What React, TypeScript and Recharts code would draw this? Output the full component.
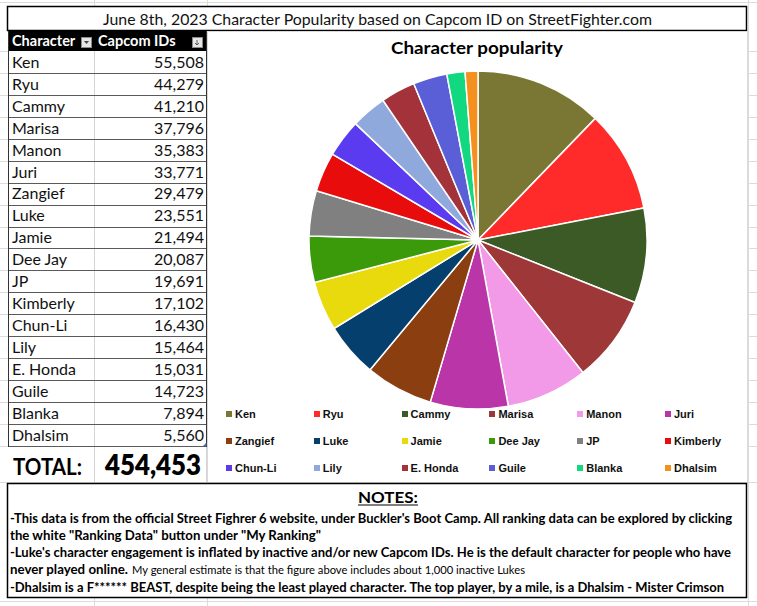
import React from "react"
import { PieChart, Pie, Cell, Legend } from "recharts"

const characters = [
  "Ken", "Ryu", "Cammy", "Marisa", "Manon", "Juri", "Zangief", "Luke", "Jamie",
  "Dee Jay", "JP", "Kimberly", "Chun-Li", "Lily", "E. Honda", "Guile", "Blanka", "Dhalsim",
]
const capcomIds = [
  55508, 44279, 41210, 37796, 35383, 33771, 29479, 23551, 21494,
  20087, 19691, 17102, 16430, 15464, 15031, 14723, 7894, 5560,
]

const pageTitle = "June 8th, 2023 Character Popularity based on Capcom ID on StreetFighter.com"
const chartTitle = "Character popularity"
const noteLines = [
  "-This data is from the official Street Fighrer 6 website, under Buckler's Boot Camp. All ranking data can be explored by clicking",
  "the white \"Ranking Data\" button under \"My Ranking\"",
  "-Luke's character engagement is inflated by inactive and/or new Capcom IDs. He is the default character for people who have",
  "never played online.",
  "-Dhalsim is a F****** BEAST, despite being the least played character. The top player, by a mile, is a Dhalsim - Mister Crimson",
]
const noteAside = "My general estimate is that the figure above includes about 1,000 inactive Lukes"

const sliceColors = [
  "#7a7634", "#ff2b2b", "#3b5a26", "#9e3838", "#f29ae8", "#ba35a8",
  "#8b3e0f", "#053f6e", "#e8da0c", "#3b9a0a", "#808080", "#e80c0c",
  "#5a3bf0", "#8fa9dc", "#a3323a", "#5a5fd8", "#12d880", "#f5901e",
]

const calibri = "Lato, 'Open Sans', sans-serif"
const arial = "'Liberation Sans', Arial, sans-serif"

const ROW_TOP = 51
const ROW_H = 21.94

const pieData = characters.map((name, i) => ({ name, value: capcomIds[i] }))
const total = capcomIds.reduce((a, b) => a + b, 0)
const fmt = (n: number) => n.toLocaleString("en-US")

function renderLegend(props: any) {
  // keep the sheet's order (recharts sorts the legend by name)
  const payload = [...(props.payload || [])].sort(
    (a: any, b: any) => characters.indexOf(a.value) - characters.indexOf(b.value),
  )
  return (
    <div style={{ position: "relative", width: 540, height: 80 }}>
      {payload.map((entry: any) => {
        const idx = characters.indexOf(entry.value)
        const col = idx % 6
        const row = Math.floor(idx / 6)
        return (
          <div
            key={entry.value}
            style={{
              position: "absolute",
              left: 19 + col * 87.8,
              top: 13 + row * 27 - 7,
              height: 14,
              display: "flex",
              alignItems: "center",
              whiteSpace: "nowrap",
            }}
          >
            <span style={{ width: 6, height: 6, background: sliceColors[idx], marginRight: 3, display: "inline-block" }} />
            <span style={{ fontFamily: arial, fontWeight: 700, fontSize: 11, color: "#111" }}>{entry.value}</span>
          </div>
        )
      })}
    </div>
  )
}

function Background() {
  const rows = []
  for (let i = 0; i <= 18; i++) rows.push(ROW_TOP + i * ROW_H)
  return (
    <g stroke="#dcdcdc" strokeWidth={1}>
      <line x1={0} x2={757} y1={2.5} y2={2.5} />
      <line x1={0} x2={757} y1={601.5} y2={601.5} />
      {rows.map((y) => (
        <line key={y} x1={0} x2={757} y1={Math.round(y) + 0.5} y2={Math.round(y) + 0.5} />
      ))}
      <line x1={0} x2={757} y1={482.5} y2={482.5} />
      <line x1={94.5} x2={94.5} y1={0} y2={606} />
      <line x1={207.5} x2={207.5} y1={0} y2={606} />
      <line x1={748.5} x2={748.5} y1={0} y2={606} />
    </g>
  )
}

function Table() {
  return (
    <g>
      <rect x={8} y={31} width={199} height={451} fill="#fff" />
      <rect x={8} y={31} width={199} height={20} fill="#000" />
      <text x={12} y={46} fill="#fff" fontFamily={calibri} fontWeight={700} fontSize={14.5}>Character</text>
      <text x={98} y={46} fill="#fff" fontFamily={calibri} fontWeight={700} fontSize={14.5}>Capcom IDs</text>
      <rect x={81.5} y={37.5} width={10} height={10} fill="#e6e6e6" stroke="#8a8a8a" />
      <path d="M84 41 L89 41 L86.5 44 Z" fill="#444" />
      <rect x={192.5} y={37.5} width={10} height={10} fill="#e6e6e6" stroke="#8a8a8a" />
      <path d="M195 43 L197 45 L199 43 M197 40 L197 45" stroke="#444" fill="none" strokeWidth={0.8} />
      <line x1={94.5} x2={94.5} y1={51} y2={482} stroke="#d4d4d4" />
      {characters.map((name, i) => {
        const top = ROW_TOP + i * ROW_H
        return (
          <g key={name}>
            {i > 0 && <line x1={8} x2={207} y1={Math.round(top) + 0.5} y2={Math.round(top) + 0.5} stroke="#5a5a5a" />}
            <text x={12} y={top + 16.8} fontFamily={calibri} fontSize={16} fill="#111">{name}</text>
            <text x={204} y={top + 16.8} fontFamily={calibri} fontSize={16} fill="#111" textAnchor="end">
              {fmt(capcomIds[i])}
            </text>
          </g>
        )
      })}
      <line x1={8} x2={207} y1={446.5} y2={446.5} stroke="#5a5a5a" />
      <line x1={8.5} x2={8.5} y1={31} y2={447} stroke="#333" />
      <line x1={206.5} x2={206.5} y1={31} y2={447} stroke="#333" />
      <path d="M203 446 L206.5 446 L206.5 442.5 Z" fill="#4472c4" />
      <line x1={206.5} x2={206.5} y1={447} y2={482} stroke="#d4d4d4" />
      <text x={13} y={475} fontFamily={calibri} fontWeight={700} fontSize={22} textLength={69} lengthAdjust="spacingAndGlyphs" fill="#000">
        TOTAL:
      </text>
      <text x={105} y={475} fontFamily={calibri} fontWeight={800} fontSize={28} textLength={96} lengthAdjust="spacingAndGlyphs" fill="#000">
        {fmt(total)}
      </text>
    </g>
  )
}

function Frames() {
  const ends = [732, 321, 731, 128, 724]
  return (
    <g>
      <rect x={7.5} y={6.5} width={739} height={24} fill="#fff" stroke="#000" strokeWidth={1.5} />
      <text x={103} y={24.5} fontFamily={calibri} fontSize={16} textLength={549} lengthAdjust="spacingAndGlyphs" fill="#111">
        {pageTitle}
      </text>
      <rect x={207.5} y={31.5} width={540} height={451} fill="#fff" stroke="#d9d9d9" />
      <text x={391} y={54} fontFamily={calibri} fontWeight={700} fontSize={17} textLength={172} lengthAdjust="spacingAndGlyphs" fill="#000">
        {chartTitle}
      </text>
      <rect x={7.5} y={483.5} width={739} height={114} fill="#fff" stroke="#000" strokeWidth={1.5} />
      <text x={358} y={502.5} fontFamily={calibri} fontWeight={700} fontSize={15} textLength={60} lengthAdjust="spacingAndGlyphs" fill="#000">
        NOTES:
      </text>
      <line x1={358} x2={418} y1={505} y2={505} stroke="#000" strokeWidth={1} />
      {noteLines.map((line, i) => (
        <text
          key={i}
          x={10}
          y={522.5 + i * 17.3}
          fontFamily={calibri}
          fontWeight={700}
          fontSize={13}
          textLength={ends[i] - 10}
          lengthAdjust="spacingAndGlyphs"
          fill="#000"
        >
          {line}
        </text>
      ))}
      <text x={132} y={522.5 + 3 * 17.3} fontFamily={calibri} fontSize={11.5} textLength={393} lengthAdjust="spacingAndGlyphs" fill="#000">
        {noteAside}
      </text>
    </g>
  )
}

export default function App() {
  return (
    <div style={{ position: "absolute", left: 0, top: 0, width: 757, height: 606, background: "#fff", overflow: "hidden" }}>
      <svg width={757} height={606} style={{ position: "absolute", left: 0, top: 0 }}>
        <Background />
        <Frames />
        <Table />
      </svg>
      <div style={{ position: "absolute", left: 207, top: 31 }}>
        <PieChart width={540} height={451} margin={{ top: 0, right: 0, bottom: 0, left: 0 }}>
          <Pie
            data={pieData}
            dataKey="value"
            nameKey="name"
            cx={271}
            cy={209}
            outerRadius={169}
            startAngle={90}
            endAngle={-270}
            stroke="#fff"
            strokeWidth={1.5}
            isAnimationActive={false}
          >
            {pieData.map((d, i) => (
              <Cell key={d.name} fill={sliceColors[i]} />
            ))}
          </Pie>
          <Legend
            layout="horizontal"
            verticalAlign="middle"
            align="center"
            content={renderLegend}
            wrapperStyle={{ left: 0, top: 370, width: 540, height: 80 }}
          />
        </PieChart>
      </div>
    </div>
  )
}
